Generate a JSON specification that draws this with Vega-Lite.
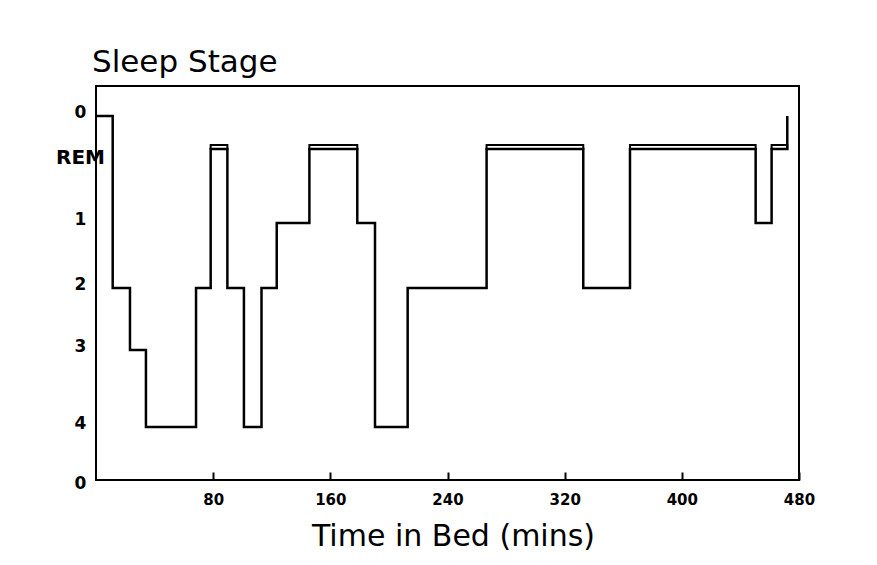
{
  "$schema": "https://vega.github.io/schema/vega-lite/v6.json",
  "width": 703,
  "height": 394,
  "autosize": {"type": "none"},
  "padding": {"left": 96, "top": 86, "right": 78, "bottom": 85},
  "background": "white",
  "config": {
    "font": "DejaVu Sans",
    "view": {"stroke": "black", "strokeWidth": 2}
  },
  "title": {
    "text": "Sleep Stage",
    "anchor": "start",
    "frame": "group",
    "fontSize": 31,
    "fontWeight": "normal",
    "font": "DejaVu Sans",
    "color": "black",
    "baseline": "alphabetic",
    "offset": 12,
    "dx": -4,
    "dy": 29
  },
  "datasets": {
    "stages": [
      {"t": 0, "stage": 0},
      {"t": 11.4, "stage": 2},
      {"t": 23.2, "stage": 3},
      {"t": 34.1, "stage": 4},
      {"t": 68.3, "stage": 2},
      {"t": 78.3, "stage": 0.5},
      {"t": 89.7, "stage": 2},
      {"t": 101, "stage": 4},
      {"t": 113, "stage": 2},
      {"t": 123.4, "stage": 1},
      {"t": 145.7, "stage": 0.5},
      {"t": 178.4, "stage": 1},
      {"t": 190.5, "stage": 4},
      {"t": 212.8, "stage": 2},
      {"t": 266.7, "stage": 0.5},
      {"t": 332.7, "stage": 2},
      {"t": 364.6, "stage": 0.5},
      {"t": 450.4, "stage": 1},
      {"t": 461.3, "stage": 0.5},
      {"t": 472, "stage": 0}
    ],
    "rem": [
      {"start": 78.3, "end": 89.7},
      {"start": 145.7, "end": 178.4},
      {"start": 266.7, "end": 332.7},
      {"start": 364.6, "end": 450.4},
      {"start": 461.3, "end": 472}
    ]
  },
  "layer": [
    {
      "data": {"name": "stages"},
      "mark": {"type": "line", "interpolate": "step-after", "color": "black", "strokeWidth": 2.5},
      "encoding": {
        "x": {
          "field": "t",
          "type": "quantitative",
          "scale": {"domain": [0, 480], "nice": false, "zero": false},
          "axis": {
            "values": [80, 160, 240, 320, 400, 480],
            "format": "d",
            "domain": false,
            "grid": false,
            "tickSize": -8,
            "tickColor": "black",
            "tickWidth": 2,
            "labelPadding": 20,
            "labelFontSize": 15,
            "labelFontWeight": "bold",
            "labelColor": "black",
            "labelFlush": false,
            "labelBaseline": "top",
            "title": "Time in Bed (mins)",
            "titleFontSize": 30,
            "titleFontWeight": "normal",
            "titleColor": "black",
            "titleX": 357,
            "titleY": 65,
            "titleAlign": "center",
            "titleBaseline": "alphabetic"
          }
        },
        "y": {
          "field": "stage",
          "type": "quantitative",
          "scale": {
            "domain": [-1, 0, 0.5, 1, 2, 3, 4, 5],
            "range": [0, 30, 63, 137, 202, 264, 341, 394],
            "nice": false,
            "zero": false
          },
          "axis": {
            "values": [0, 0.5, 1, 2, 3, 4, 5],
            "labelExpr": "datum.value == 0.5 ? 'REM' : datum.value == 5 ? '0' : format(datum.value, 'd')",
            "domain": false,
            "ticks": false,
            "grid": false,
            "title": null,
            "labelAlign": "center",
            "labelBaseline": "middle",
            "labelPadding": 16,
            "labelFontWeight": "bold",
            "labelColor": "black",
            "labelOverlap": false,
            "labelFontSize": {"condition": {"test": "datum.value == 0.5", "value": 20}, "value": 17},
            "labelOffset": {"condition": [{"test": "datum.value == 0.5", "value": 8}, {"test": "datum.value == 5", "value": 3}], "value": -4}
          }
        }
      }
    },
    {
      "data": {"name": "rem"},
      "mark": {"type": "rect", "filled": false, "stroke": "black", "strokeWidth": 2},
      "encoding": {
        "x": {"field": "start", "type": "quantitative"},
        "x2": {"field": "end"},
        "y": {"datum": 0.44, "type": "quantitative"},
        "y2": {"datum": 0.5}
      }
    }
  ]
}
